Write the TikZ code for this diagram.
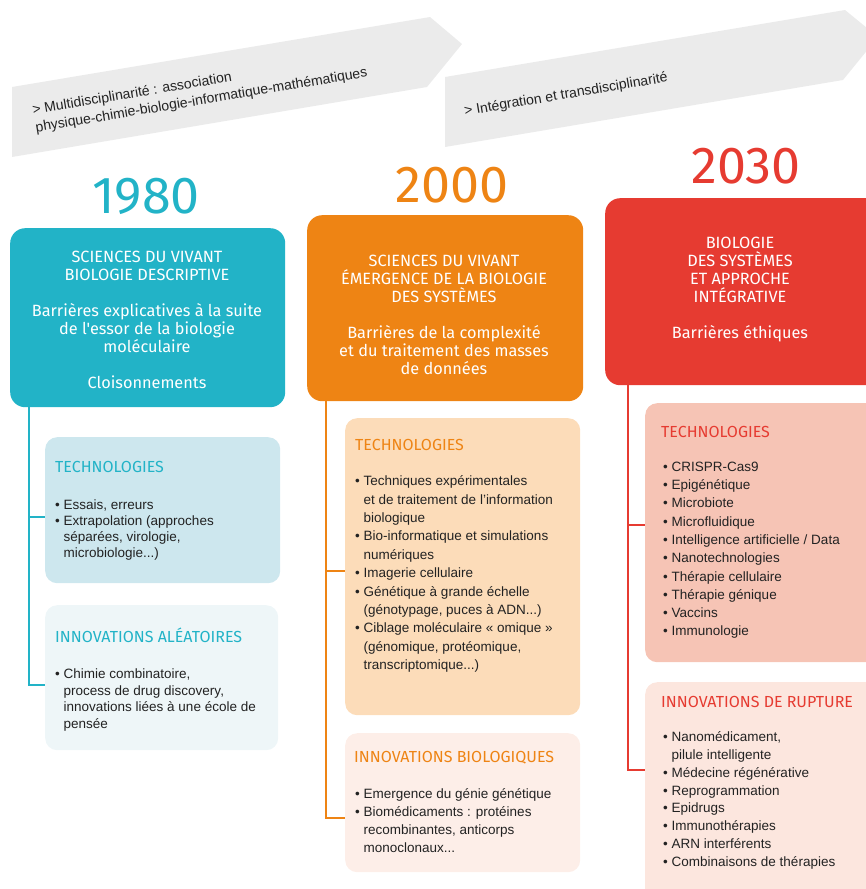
\documentclass[tikz,border=0pt]{standalone}
\usepackage{fontspec}
\setmainfont{Liberation Sans}
\newfontfamily\headfont{Fira Sans}
\usetikzlibrary{positioning}

\definecolor{tealmain}{HTML}{22B3C7}
\definecolor{tealtech}{HTML}{CDE7EE}
\definecolor{tealinno}{HTML}{EEF6F8}
\definecolor{orangemain}{HTML}{EE8414}
\definecolor{orangetech}{HTML}{FCDCB9}
\definecolor{orangeinno}{HTML}{FDEEE8}
\definecolor{redmain}{HTML}{E63B31}
\definecolor{redtech}{HTML}{F6C4B5}
\definecolor{redinno}{HTML}{FCE6DE}
\definecolor{bannergray}{HTML}{EBEBEB}
\definecolor{textdark}{HTML}{222222}

\newcommand\bulletitem{\makebox[8.5pt][l]{•}}
\newcommand\followline{\hspace*{8.5pt}}

\tikzset{
  year/.style={font=\headfont\fontsize{52}{52}\selectfont, inner sep=0pt},
  mainbox/.style={anchor=north west, rounded corners=15pt, inner sep=0pt},
  subbox/.style={anchor=north west, rounded corners=12pt, inner sep=0pt},
  headtext/.style={text=white, align=center, inner sep=0pt, font=\headfont\fontsize{16.3}{18}\selectfont},
  subtitle/.style={anchor=base west, inner sep=0pt, font=\headfont\fontsize{16}{18}\selectfont},
  itemlist/.style={anchor=north west, align=left, inner sep=0pt, text=textdark, font=\fontsize{13.5}{#1}\selectfont},
  bannertext/.style={rotate=9.5, align=left, inner sep=0pt, text=textdark, font=\fontsize{14}{18}\selectfont},
  link/.style={line width=1.8pt}
}

\begin{document}
\begin{tikzpicture}[x=1pt, y=-1pt]
\useasboundingbox (0,0) rectangle (866,889);
\clip (0,0) rectangle (866,889);

\fill[bannergray] (12,87) -- (430,17) -- (462,44) -- (427,87) -- (12,157) -- cycle;
\fill[bannergray] (445,77) -- (845,10) -- (878,37) -- (843,80) -- (445,147) -- cycle;
\node[bannertext] (band1) at (200,92) {> Multidisciplinarité : association\\physique-chimie-biologie-informatique-mathématiques};
\node[bannertext] (band2) at (566,95) {> Intégration et transdisciplinarité};

\node[year, text=tealmain] (y1980) at (146,196) {1980};
\node[year, text=orangemain] (y2000) at (452,185) {2000};
\node[year, text=redmain] (y2030) at (746,166) {2030};

\node[mainbox, fill=tealmain, minimum width=275pt, minimum height=179pt] (b1980) at (10,228) {};
\node[mainbox, fill=orangemain, minimum width=276pt, minimum height=186pt] (b2000) at (307,215) {};
\node[mainbox, fill=redmain, minimum width=285pt, minimum height=187pt] (b2030) at (605,198) {};

\node[headtext] (t1980) at (147,320) {SCIENCES DU VIVANT\\BIOLOGIE DESCRIPTIVE\\[18pt]Barrières explicatives à la suite\\de l'essor de la biologie\\moléculaire\\[18pt]Cloisonnements};
\node[headtext] (t2000) at (444,315) {SCIENCES DU VIVANT\\ÉMERGENCE DE LA BIOLOGIE\\DES SYSTÈMES\\[18pt]Barrières de la complexité\\et du traitement des masses\\de données};
\node[headtext] (t2030) at (740,290) {BIOLOGIE\\DES SYSTÈMES\\ET APPROCHE\\INTÉGRATIVE\\[18pt]Barrières éthiques};

\node[subbox, fill=tealtech, minimum width=235pt, minimum height=146pt] (tech1) at (45,437) {};
\node[subbox, fill=tealinno, minimum width=233pt, minimum height=145pt] (inno1) at (45,605) {};
\node[subbox, fill=orangetech, minimum width=235pt, minimum height=297pt] (tech2) at (345,418) {};
\node[subbox, fill=orangeinno, minimum width=235pt, minimum height=139pt] (inno2) at (345,733) {};
\node[subbox, fill=redtech, minimum width=245pt, minimum height=259pt] (tech3) at (645,403) {};
\node[subbox, fill=redinno, minimum width=245pt, minimum height=225pt] (inno3) at (645,682) {};

\node[subtitle, text=tealmain] (h1tech) at (55,472.5) {TECHNOLOGIES};
\node[subtitle, text=tealmain] (h1inno) at (55,642.5) {INNOVATIONS ALÉATOIRES};
\node[subtitle, text=orangemain] (h2tech) at (355,450.5) {TECHNOLOGIES};
\node[subtitle, text=orangemain] (h2inno) at (354,762.5) {INNOVATIONS BIOLOGIQUES};
\node[subtitle, text=redmain] (h3tech) at (661,437.5) {TECHNOLOGIES};
\node[subtitle, text=redmain] (h3inno) at (661,707.5) {INNOVATIONS DE RUPTURE};

\node[itemlist=16] (l1tech) at (55,499.6) {\bulletitem Essais, erreurs\\\bulletitem Extrapolation (approches\\\followline séparées, virologie,\\\followline microbiologie...)};
\node[itemlist=16.5] (l1inno) at (55,668.6) {\bulletitem Chimie combinatoire,\\\followline process de drug discovery,\\\followline innovations liées à une école de\\\followline pensée};
\node[itemlist=18.4] (l2tech) at (355,475.6) {\bulletitem Techniques expérimentales\\\followline et de traitement de l’information\\\followline biologique\\\bulletitem Bio-informatique et simulations\\\followline numériques\\\bulletitem Imagerie cellulaire\\\bulletitem Génétique à grande échelle\\\followline (génotypage, puces à ADN...)\\\bulletitem Ciblage moléculaire « omique »\\\followline (génomique, protéomique,\\\followline transcriptomique...)};
\node[itemlist=17.8] (l2inno) at (355,788.6) {\bulletitem Emergence du génie génétique\\\bulletitem Biomédicaments : protéines\\\followline recombinantes, anticorps\\\followline monoclonaux...};
\node[itemlist=18.3] (l3tech) at (663,461.6) {\bulletitem CRISPR-Cas9\\\bulletitem Epigénétique\\\bulletitem Microbiote\\\bulletitem Microfluidique\\\bulletitem Intelligence artificielle / Data\\\bulletitem Nanotechnologies\\\bulletitem Thérapie cellulaire\\\bulletitem Thérapie génique\\\bulletitem Vaccins\\\bulletitem Immunologie};
\node[itemlist=17.8] (l3inno) at (663,731.6) {\bulletitem Nanomédicament,\\\followline pilule intelligente\\\bulletitem Médecine régénérative\\\bulletitem Reprogrammation\\\bulletitem Epidrugs\\\bulletitem Immunothérapies\\\bulletitem ARN interférents\\\bulletitem Combinaisons de thérapies};

\draw[link, tealmain] ([xshift=19pt]b1980.south west) |- ([yshift=-7pt]tech1.west);
\draw[link, tealmain] ([xshift=19pt]b1980.south west) |- ([yshift=-7pt]inno1.west);
\draw[link, orangemain] ([xshift=19pt]b2000.south west) |- ([yshift=-4pt]tech2.west);
\draw[link, orangemain] ([xshift=19pt]b2000.south west) |- ([yshift=-15.5pt]inno2.west);
\draw[link, redmain] ([xshift=23pt]b2030.south west) |- ([yshift=7.5pt]tech3.west);
\draw[link, redmain] ([xshift=23pt]b2030.south west) |- ([yshift=25pt]inno3.west);

\end{tikzpicture}
\end{document}
